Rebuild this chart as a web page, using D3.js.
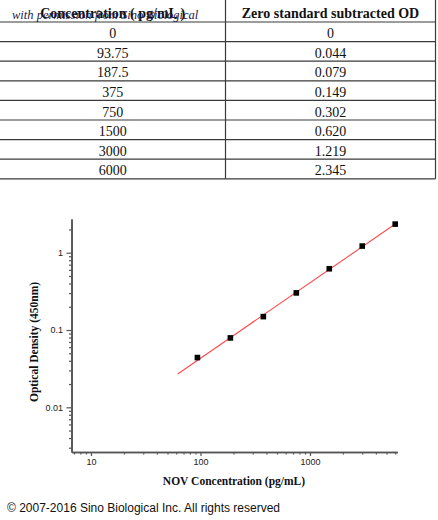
<!DOCTYPE html>
<html>
<head>
<meta charset="utf-8">
<script src="https://cdn.jsdelivr.net/npm/d3@7"></script>
<style>
html,body{margin:0;padding:0;background:#fff;}
svg{display:block;}
</style>
</head>
<body>
<svg id="chart" width="438" height="520"></svg>
<script>
// ---- data ----
const tableHeaders = ["Concentration ( pg/mL )", "Zero standard subtracted OD"];
const concLabels = ["0", "93.75", "187.5", "375", "750", "1500", "3000", "6000"];
const odLabels = ["0", "0.044", "0.079", "0.149", "0.302", "0.620", "1.219", "2.345"];
const concentrations = [0, 93.75, 187.5, 375, 750, 1500, 3000, 6000];
const odValues = [0, 0.044, 0.079, 0.149, 0.302, 0.620, 1.219, 2.345];
const fitX = [62, 6000];
const fitY = [0.027, 2.35];
const xTickValues = [10, 100, 1000];
const xTickLabels = ["10", "100", "1000"];
const yTickValues = [0.01, 0.1, 1];
const yTickLabels = ["0.01", "0.1", "1"];
const xTitle = "NOV Concentration (pg/mL)";
const yTitle = "Optical Density (450nm)";
const watermark = "with permission from Sino Biological";
const copyright = "\u00a9 2007-2016 Sino Biological Inc. All rights reserved";

const svg = d3.select("#chart");
const serif = "'Liberation Serif','Times New Roman',serif";
const sans = "'Liberation Sans',Arial,sans-serif";

// ---- table ----
const colX = [0, 225.5, 435.5];
const headerH = 22, rowH = 19.6;
const rowY = d3.scaleLinear().domain([0, concLabels.length]).range([headerH, headerH + rowH * concLabels.length]);
const tbl = svg.append("g");
const lineColor = "#3a3a3a";
tbl.selectAll("line.h").data(d3.range(concLabels.length + 1)).join("line")
  .attr("x1", 0).attr("x2", colX[2])
  .attr("y1", d => rowY(d)).attr("y2", d => rowY(d))
  .attr("stroke", lineColor).attr("stroke-width", 1.2);
tbl.selectAll("line.v").data([colX[1], colX[2]]).join("line")
  .attr("x1", d => d).attr("x2", d => d)
  .attr("y1", 0).attr("y2", rowY(concLabels.length))
  .attr("stroke", lineColor).attr("stroke-width", 1.2);
tbl.selectAll("text.hd").data(tableHeaders).join("text")
  .attr("x", (d, i) => (colX[i] + colX[i + 1]) / 2)
  .attr("y", 17.5)
  .attr("text-anchor", "middle")
  .attr("font-family", serif).attr("font-weight", "bold").attr("font-size", 14)
  .attr("fill", "#111")
  .text(d => d);
const rows = concLabels.map((c, i) => [c, odLabels[i]]);
rows.forEach((r, i) => {
  r.forEach((t, j) => {
    tbl.append("text")
      .attr("x", (colX[j] + colX[j + 1]) / 2)
      .attr("y", rowY(i) + 16.2)
      .attr("text-anchor", "middle")
      .attr("font-family", serif).attr("font-size", 14)
      .attr("fill", "#111")
      .text(t);
  });
});
// watermark
svg.append("text")
  .attr("x", 12).attr("y", 19)
  .attr("font-family", serif).attr("font-style", "italic").attr("font-size", 12.5)
  .attr("fill", "#1a1a4e")
  .text(watermark);

// ---- chart ----
const x = d3.scaleLog().domain([6.64, 6270]).range([71.5, 397.3]);
const y = d3.scaleLog().domain([0.00264, 2.73]).range([452, 219]);
const axisColor = "#555";

const xMinor = x.ticks().filter(v => !xTickValues.includes(v));
const yMinor = y.ticks().filter(v => !yTickValues.some(t => Math.abs(t - v) < 1e-9));

const gx = svg.append("g").attr("transform", "translate(0,452)");
gx.call(d3.axisBottom(x).tickValues(xMinor).tickSize(2.5).tickSizeOuter(0).tickFormat(""));
gx.append("g").call(d3.axisBottom(x).tickValues(xTickValues).tickSize(4).tickSizeOuter(0)
  .tickFormat((d, i) => xTickLabels[i]));
gx.selectAll("path.domain").attr("stroke", axisColor).attr("stroke-width", 1.6);
gx.selectAll(".tick line").attr("stroke", axisColor).attr("stroke-width", 1.2);
gx.selectAll(".tick text").attr("font-family", sans).attr("font-size", 9).attr("fill", "#222").attr("y", 7).attr("dy", "0.71em");

const gy = svg.append("g").attr("transform", "translate(71.5,0)");
gy.call(d3.axisLeft(y).tickValues(yMinor).tickSize(2.5).tickSizeOuter(0).tickFormat(""));
gy.append("g").call(d3.axisLeft(y).tickValues(yTickValues).tickSize(5).tickSizeOuter(0)
  .tickFormat((d, i) => yTickLabels[i]));
gy.selectAll("path.domain").attr("stroke", axisColor).attr("stroke-width", 1.6);
gy.selectAll(".tick line").attr("stroke", axisColor).attr("stroke-width", 1.2);
gy.selectAll(".tick text").attr("font-family", sans).attr("font-size", 9).attr("fill", "#222").attr("x", -8.5);

// fit line
const line = d3.line().x(d => x(d[0])).y(d => y(d[1]));
svg.append("path")
  .datum(fitX.map((v, i) => [v, fitY[i]]))
  .attr("d", line)
  .attr("fill", "none").attr("stroke", "#ff4a4a").attr("stroke-width", 1.1);

// points
const pts = concentrations.map((c, i) => [c, odValues[i]]).filter(d => d[0] > 0);
svg.selectAll("rect.pt").data(pts).join("rect")
  .attr("x", d => x(d[0]) - 2.8).attr("y", d => y(d[1]) - 2.8)
  .attr("width", 5.6).attr("height", 5.6)
  .attr("fill", "#000");

// axis titles
svg.append("text")
  .attr("x", 234).attr("y", 485)
  .attr("text-anchor", "middle")
  .attr("font-family", serif).attr("font-weight", "bold").attr("font-size", 11.5)
  .attr("fill", "#111")
  .text(xTitle);
svg.append("text")
  .attr("transform", "translate(37.5,342) rotate(-90)")
  .attr("text-anchor", "middle")
  .attr("font-family", serif).attr("font-weight", "bold").attr("font-size", 11.5)
  .attr("fill", "#111")
  .text(yTitle);

// copyright
svg.append("text")
  .attr("x", 7).attr("y", 512)
  .attr("font-family", sans).attr("font-size", 12)
  .attr("fill", "#111")
  .text(copyright);
</script>
</body>
</html>
